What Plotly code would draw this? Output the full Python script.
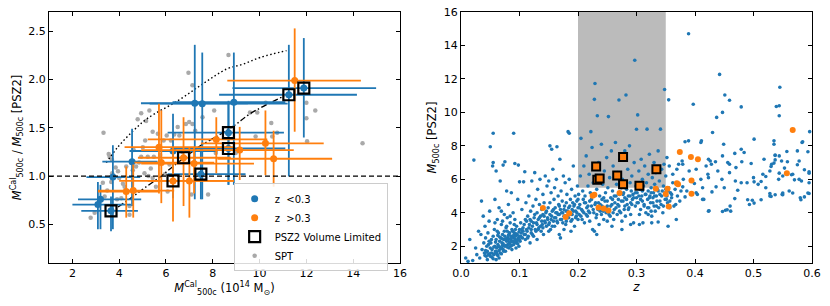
import plotly.graph_objects as go
from plotly.subplots import make_subplots

# ---------------- Left panel data ----------------
# z < 0.3 clusters (blue)
lo_x = [3.09, 3.20, 3.73, 3.65, 4.55, 6.30, 7.23, 7.55, 8.90, 8.67, 8.67, 7.49, 11.25, 11.89]
lo_y = [0.705, 0.76, 0.99, 0.64, 1.15, 1.26, 1.755, 1.75, 1.765, 1.45, 1.286, 1.02, 1.843, 1.912]
lo_xmin = [2.00, 2.24, 2.60, 2.38, 3.28, 4.44, 4.93, 5.30, 6.28, 6.07, 6.35, 6.07, 8.27, 8.84]
lo_xmax = [4.50, 4.94, 4.90, 4.80, 5.64, 8.20, 9.50, 11.20, 11.10, 11.04, 11.10, 9.40, 14.16, 14.98]
lo_ymin = [0.45, 0.45, 0.45, 0.43, 0.69, 0.77, 0.76, 0.76, 0.91, 0.91, 0.91, 0.76, 0.996, 1.40]
lo_ymax = [0.94, 0.91, 1.32, 0.79, 1.49, 1.645, 2.36, 2.28, 2.28, 1.78, 1.75, 1.30, 2.36, 2.43]

# z > 0.3 clusters (orange)
hi_x = [4.30, 4.60, 5.70, 5.80, 6.30, 6.75, 7.00, 7.20, 8.15, 9.15, 10.25, 10.60, 11.50]
hi_y = [0.84, 0.85, 1.30, 1.14, 0.95, 1.19, 0.95, 1.13, 1.38, 1.27, 1.34, 1.18, 1.99]
hi_xmin = [3.09, 3.09, 4.23, 4.65, 4.00, 4.80, 5.22, 4.94, 5.22, 4.94, 7.49, 8.20, 8.62]
hi_xmax = [5.72, 6.35, 8.90, 8.06, 8.90, 8.77, 8.90, 9.76, 10.33, 11.46, 12.74, 13.10, 14.33]
hi_ymin = [0.57, 0.57, 0.82, 0.72, 0.53, 0.69, 0.57, 0.82, 1.03, 0.96, 1.01, 0.89, 1.46]
hi_ymax = [1.10, 1.12, 1.75, 1.68, 1.29, 1.61, 1.30, 1.30, 1.61, 1.51, 1.68, 1.47, 2.53]

# PSZ2 volume limited (squares)
vl_x = [3.65, 6.30, 6.75, 7.49, 8.67, 8.67, 11.25, 11.89]
vl_y = [0.64, 0.95, 1.19, 1.02, 1.45, 1.286, 1.843, 1.912]

# SPT
spt_x = [8.67, 6.96, 7.13, 5.29, 3.33, 3.55, 3.59, 3.69, 3.70, 3.66, 3.49, 2.78, 2.95, 3.16, 3.38,
         3.91, 4.09, 4.44, 4.44, 4.23, 4.16, 4.58, 4.72, 4.94, 5.01, 5.11, 4.79, 4.94, 5.15, 5.43,
         5.65, 5.90, 6.03, 6.21, 5.48, 5.22, 5.08, 5.25, 5.43, 5.57, 6.07, 6.50, 6.57, 6.85, 6.99,
         7.13, 7.56, 8.06, 7.09, 7.80, 8.13, 8.98, 9.19, 9.83, 9.90, 10.26, 10.50, 10.75, 10.54,
         12.00, 12.00, 12.38, 12.03, 14.40, 9.59, 4.30, 4.85, 5.35, 5.75, 6.15, 3.85, 4.00, 3.30,
         5.95, 6.35, 4.62, 3.95, 7.25, 6.70]
spt_y = [2.254, 2.07, 1.94, 1.68, 1.45, 1.23, 1.20, 1.17, 1.03, 0.94, 0.85, 0.57, 0.62, 0.74, 0.79,
         0.76, 0.77, 0.69, 0.60, 0.89, 0.92, 1.06, 1.10, 1.20, 1.30, 1.37, 1.59, 1.65, 1.57, 1.46,
         1.44, 1.37, 1.42, 1.37, 1.20, 1.20, 1.03, 1.00, 0.98, 0.89, 0.84, 1.51, 1.42, 1.54, 1.56,
         1.54, 1.61, 1.68, 0.81, 0.81, 1.24, 1.24, 1.27, 1.41, 1.66, 1.76, 1.55, 1.45, 1.41,
         1.76, 1.60, 1.68, 1.36, 1.34, 1.66, 1.10, 1.14, 1.08, 1.22, 1.12, 1.09, 0.98, 0.93,
         1.02, 1.43, 1.27, 1.05, 1.47, 1.25]

# model curves
dot_x = [3.45, 3.94, 4.60, 5.22, 6.50, 7.60, 8.60, 9.30, 10.04, 11.15]
dot_y = [1.14, 1.30, 1.47, 1.60, 1.78, 1.96, 2.11, 2.16, 2.23, 2.30]
dd_x = [3.95, 4.60, 5.10, 5.74, 6.30, 7.16, 7.50, 8.16, 8.90, 9.62, 11.05]
dd_y = [0.68, 0.79, 0.88, 0.99, 1.10, 1.26, 1.32, 1.41, 1.52, 1.65, 1.83]

# ---------------- Right panel data ----------------
psz_z = [
 0.008,0.012,0.015,0.02,0.022,0.025,0.027,0.03,0.032,0.034,0.035,0.036,0.038,0.039,0.04,0.041,0.042,0.043,0.044,0.045,
 0.046,0.047,0.048,0.049,0.05,0.05,0.045,0.048,0.042,0.049,
 0.051,0.052,0.053,0.054,0.055,0.055,0.055,0.056,0.057,0.058,0.058,0.059,0.06,0.06,0.061,0.062,0.062,0.063,0.064,0.065,
 0.065,0.066,0.067,0.067,0.068,0.069,0.07,0.07,0.071,0.072,0.072,0.073,0.074,0.075,0.075,0.075,0.076,0.077,0.078,0.078,
 0.079,0.08,0.08,0.081,0.082,0.082,0.083,0.084,0.085,0.085,0.086,0.087,0.087,0.088,0.089,0.09,0.09,0.09,0.091,0.092,
 0.092,0.093,0.094,0.095,0.095,0.096,0.097,0.098,0.098,0.099,0.1,0.1,0.1,0.083,0.076,0.071,0.066,0.063,0.088,0.094,
 0.069,0.086,0.079,0.091,
 0.101,0.102,0.103,0.104,0.105,0.106,0.107,0.108,0.109,0.11,0.11,0.111,0.112,0.113,0.114,0.115,0.116,0.117,0.118,0.119,
 0.12,0.12,0.121,0.122,0.123,0.124,0.125,0.126,0.127,0.128,0.129,0.13,0.13,0.131,0.132,0.133,0.134,0.135,0.136,0.137,
 0.138,0.139,0.14,0.14,0.141,0.142,0.143,0.144,0.145,0.146,0.147,0.148,0.149,0.15,0.15,0.152,0.155,0.164,
 0.151,0.152,0.153,0.154,0.155,0.156,0.157,0.158,0.159,0.16,0.16,0.161,0.162,0.163,0.164,0.165,0.166,0.167,0.168,0.169,
 0.17,0.17,0.171,0.172,0.173,0.174,0.175,0.176,0.177,0.178,0.179,0.18,0.18,0.181,0.182,0.183,0.184,0.185,0.185,0.186,
 0.187,0.188,0.189,0.19,0.19,0.191,0.192,0.193,0.194,0.195,0.196,0.197,0.198,0.199,0.2,0.2,0.188,0.176,0.168,
 0.201,0.202,0.203,0.204,0.205,0.206,0.207,0.208,0.209,0.21,0.21,0.211,0.212,0.213,0.214,0.215,0.216,0.217,0.218,0.219,
 0.22,0.22,0.221,0.222,0.223,0.224,0.225,0.226,0.227,0.228,0.229,0.23,0.23,0.231,0.232,0.233,0.234,0.235,0.236,0.237,
 0.238,0.239,0.24,0.24,0.241,0.242,0.243,0.244,0.245,0.246,0.247,0.248,0.249,0.25,0.25,0.228,0.232,
 0.251,0.252,0.253,0.254,0.255,0.256,0.257,0.258,0.259,0.26,0.26,0.261,0.262,0.263,0.264,0.265,0.266,0.267,0.268,0.269,
 0.27,0.27,0.271,0.272,0.273,0.274,0.275,0.276,0.277,0.278,0.279,0.28,0.28,0.281,0.282,0.283,0.284,0.285,0.286,0.287,
 0.288,0.289,0.29,0.29,0.291,0.292,0.293,0.294,0.295,0.296,0.297,0.298,0.299,0.3,0.3,0.258,0.275,0.29,
 0.301,0.302,0.303,0.304,0.305,0.306,0.307,0.308,0.309,0.31,0.31,0.311,0.312,0.313,0.314,0.315,0.316,0.317,0.318,0.319,
 0.32,0.32,0.321,0.322,0.323,0.324,0.325,0.326,0.327,0.328,0.329,0.33,0.33,0.331,0.332,0.333,0.334,0.335,0.336,0.337,
 0.338,0.339,0.34,0.341,0.342,0.343,0.344,0.345,0.346,0.347,0.348,0.349,0.35,0.35,0.326,
 0.352,0.353,0.355,0.356,0.357,0.358,0.36,0.362,0.364,0.366,0.368,0.37,0.372,0.374,0.376,0.378,0.352,0.355,0.354,
 0.389,0.442,0.545,0.451,0.459,0.397,0.479,0.539,0.544,0.544,0.437,0.447,0.43,0.501,0.535,0.535,0.383,0.389,0.41,0.411,
 0.449,0.468,0.479,0.484,0.583,0.593,0.575,0.596,0.447,0.423,0.426,0.428,0.435,0.456,0.459,0.48,0.496,0.518,0.537,0.544,
 0.548,0.558,0.578,0.531,0.379,0.369,0.39,0.402,0.419,0.439,0.459,0.47,0.5,0.516,0.528,0.55,0.567,0.582,0.595,0.422,
 0.423,0.41,0.38,0.362,0.379,0.386,0.399,0.413,0.429,0.436,0.446,0.45,0.469,0.473,0.479,0.489,0.501,0.508,0.521,0.528,
 0.528,0.543,0.549,0.561,0.578,0.587,0.595,0.595,0.468,0.413,0.452,0.46,0.423,0.493,0.498,0.367,0.383,0.402,0.58,0.305,
 0.337,0.32,0.325,0.447,0.455,0.461,0.424,0.55,0.55,0.567,0.537,0.53,0.581,0.593,0.49,0.501,0.513,0.415,0.404,0.53,
 0.535,0.553,0.565,0.575,0.587,0.595,0.57,0.544,0.537,0.537,0.584,0.557,0.521,0.513,
 0.041,0.044,0.047,0.05,0.052,0.053,0.056,0.057,0.059,0.061,0.063,0.064,0.066,0.068,0.069,0.07,0.072,0.073,0.074,0.076,
 0.077,0.079,0.08,0.081,0.082,0.084,0.085,0.086,0.087,0.089,0.09,0.091,0.093,0.094,0.096,0.097,0.099,0.1,0.058,0.062,
 0.071,0.078,0.084,0.093,0.06,0.055,0.065,
 0.102,0.104,0.106,0.108,0.11,0.112,0.114,0.116,0.118,0.12,0.122,0.124,0.126,0.128,0.13,0.132,0.134,0.136,0.138,0.14,
 0.142,0.144,0.146,0.148,0.15,0.152,0.154,0.156,0.158,0.16,0.162,0.164,0.166,0.168,0.17,0.172,0.174,0.176,0.178,0.18,
 0.182,0.184,0.186,0.188,0.19,0.192,0.194,0.196,0.198,0.2,
 0.202,0.205,0.208,0.211,0.214,0.217,0.22,0.223,0.226,0.229,0.232,0.235,0.238,0.241,0.244,0.247,0.25,0.253,0.256,0.259,
 0.262,0.265,0.268,0.271,0.274,0.277,0.28,0.283,0.286,0.289,0.292,0.295,0.298,0.301,0.304,0.307,0.31,0.313,0.316,0.319,
 0.322,0.325,0.328,0.331,0.334,0.337,0.34,0.343,0.346,0.349,0.351,0.354,0.357,0.36]
psz_m = [
 1.3,1.1,2.4,1.15,7.15,1.9,1.5,2.9,1.3,2.7,4.7,1.8,3.8,2.2,1.6,3.2,2.5,1.4,2.0,1.7,
 2.8,1.5,3.5,4.1,7.95,1.9,1.2,2.3,1.75,1.55,
 2.2,1.6,1.8,6.8,7.0,8.75,2.6,1.5,3.0,2.0,4.8,1.7,6.5,2.4,1.9,3.6,1.5,2.1,2.8,1.75,
 4.3,2.3,5.9,1.6,2.5,3.3,1.9,2.2,2.7,6.85,1.8,2.4,3.9,7.05,2.0,2.6,1.7,3.1,2.3,5.3,
 2.9,2.1,2.5,4.5,1.9,2.7,2.2,3.4,2.4,2.0,2.6,1.8,3.0,2.3,4.0,8.75,2.5,2.1,2.8,6.95,
 3.6,2.4,1.9,2.2,3.2,2.7,4.8,6.85,2.5,2.0,5.85,3.0,2.6,2.8,2.4,2.05,1.95,2.65,2.9,2.35,
 4.1,5.2,3.7,3.3,
 2.3,3.4,2.8,4.2,2.5,3.1,5.85,2.7,6.45,3.6,2.4,4.6,3.0,2.9,3.8,2.6,5.0,3.3,2.2,4.1,
 3.5,2.8,5.9,3.2,4.4,2.6,3.7,6.4,3.0,4.8,3.4,2.4,4.0,5.4,3.6,3.1,4.5,6.0,3.8,2.9,
 4.2,3.3,5.1,3.9,2.7,4.6,3.5,6.2,4.0,3.2,5.6,3.7,4.3,2.9,5.9,8.0,7.8,7.95,
 3.4,4.6,3.0,5.2,3.8,4.1,6.6,3.5,4.8,3.2,5.5,4.3,3.7,6.0,4.0,3.4,5.0,4.5,3.9,7.2,
 4.2,2.5,5.3,3.6,4.7,4.0,6.2,3.8,4.4,5.8,3.3,4.6,4.1,5.1,3.7,8.85,4.3,8.75,6.0,4.0,
 4.8,3.5,5.4,4.2,3.9,4.6,6.8,4.4,3.2,5.0,4.1,3.8,4.7,5.6,4.3,3.6,2.9,3.0,2.7,
 5.1,3.9,4.5,6.2,8.45,4.2,3.6,5.3,4.8,4.0,6.8,3.4,5.0,4.6,7.4,4.3,3.8,5.6,4.1,6.3,
 4.7,3.5,5.2,8.85,4.4,7.9,3.0,5.8,4.0,10.78,11.73,4.6,6.6,3.7,5.4,9.8,4.2,7.0,3.3,5.0,
 4.5,6.0,3.9,8.1,4.8,5.7,4.1,3.6,6.5,4.7,5.2,4.0,7.3,4.4,3.5,2.9,2.7,
 5.5,9.75,4.2,6.1,3.8,4.9,7.7,4.5,5.3,4.0,6.8,3.6,5.0,4.6,8.2,4.3,5.7,3.9,6.4,4.8,
 10.74,4.4,5.1,7.2,4.0,5.5,3.5,6.0,4.7,5.2,4.2,7.7,4.9,3.8,11.04,5.4,4.5,6.6,5.0,4.3,
 8.0,5.8,4.6,3.9,5.3,6.2,4.8,5.1,3.4,7.0,13.12,4.4,5.6,8.99,4.9,3.2,3.0,3.3,
 5.2,9.85,4.6,6.5,3.9,5.4,4.2,7.2,5.0,4.7,6.0,3.4,5.6,4.4,6.8,5.1,4.0,5.8,9.0,4.8,
 5.3,6.3,4.3,7.5,5.0,4.6,5.5,3.8,6.1,4.9,5.2,4.4,7.0,5.7,4.1,6.4,5.0,4.7,5.4,7.7,
 4.3,5.9,5.1,9.0,4.5,6.6,5.3,4.0,5.6,6.9,11.37,4.8,5.4,6.2,3.4,
 5.0,4.6,5.5,6.8,4.3,5.2,4.9,5.8,4.4,5.4,3.6,5.0,6.9,4.7,5.3,7.1,7.3,10.75,3.2,
 14.7,12.27,11.5,11.04,10.73,10.49,10.33,10.35,10.4,9.8,9.7,10.0,8.8,8.4,8.3,8.1,8.25,8.3,8.2,8.3,
 8.1,7.55,7.8,7.6,8.2,7.65,7.7,8.85,7.4,7.2,7.1,6.9,7.05,7.0,6.9,7.05,6.95,7.2,7.45,7.4,
 7.1,7.05,7.1,6.9,6.9,6.6,6.5,6.6,6.8,6.5,6.4,6.7,6.1,6.3,6.5,6.2,6.3,5.9,6.45,6.3,
 6.1,6.0,6.0,6.3,5.55,5.3,5.75,5.5,5.25,5.55,6.0,5.5,5.9,5.35,5.8,5.8,5.85,5.7,5.5,5.15,
 5.0,6.0,5.1,5.3,6.0,4.95,5.8,5.15,4.85,4.8,4.15,4.4,4.1,4.5,4.75,4.5,4.95,5.2,4.9,3.3,
 3.45,3.9,4.1,4.08,4.18,4.1,4.12,5.08,5.18,5.18,5.08,4.98,4.78,5.18,4.78,4.58,4.78,4.8,5.1,6.77,
 6.97,6.67,6.27,6.87,6.57,6.37,5.97,6.37,7.16,7.42,8.25,7.66,6.17,5.87,
 1.45,1.65,2.1,1.4,2.4,1.35,1.95,1.55,2.25,1.65,1.45,2.0,2.55,1.85,1.55,2.45,2.15,1.7,2.9,2.05,
 2.45,1.95,2.35,2.65,2.15,2.45,2.25,2.05,2.55,2.3,2.65,2.2,2.6,2.75,2.35,2.15,2.85,2.4,3.4,2.9,
 3.5,3.2,3.8,3.0,1.2,1.25,1.3,
 2.6,3.0,2.9,3.3,2.7,3.5,2.5,3.1,3.6,3.0,2.7,3.4,3.9,2.9,3.3,3.0,3.7,3.2,3.5,3.1,
 3.8,3.4,4.1,3.6,3.3,3.9,3.6,3.2,4.2,3.7,4.0,3.5,3.9,4.4,3.6,4.0,3.4,4.2,3.8,3.5,
 4.1,3.7,4.4,3.9,3.6,4.1,4.5,3.7,4.0,4.8,
 4.3,3.8,4.1,4.6,3.9,4.4,4.0,4.8,4.2,4.5,3.9,4.6,4.1,4.4,4.9,4.3,4.7,3.9,4.4,4.8,
 4.2,5.0,4.5,4.1,4.7,5.1,4.4,4.8,4.2,5.0,4.5,4.9,5.2,4.6,5.0,4.8,5.3,4.5,5.1,4.3,
 4.9,5.2,4.6,5.0,4.4,5.3,4.7,5.0,4.4,5.2,4.8,5.3,4.7,5.1]

# clusters with calibrated masses (orange in right panel)
cal_z = [0.140, 0.179, 0.185, 0.225, 0.228, 0.235, 0.244, 0.252, 0.271, 0.333, 0.350, 0.353, 0.355,
         0.369, 0.371, 0.374, 0.393, 0.394, 0.394, 0.405, 0.557, 0.567]
cal_m = [4.28, 3.75, 3.97, 5.02, 5.08, 4.32, 4.25, 4.13, 5.18, 5.44, 5.12, 5.44, 4.38,
         5.77, 5.71, 7.64, 7.34, 5.93, 5.14, 7.20, 6.37, 8.95]

# volume-limited clusters
vlr_z = [0.231, 0.277, 0.233, 0.237, 0.267, 0.277, 0.305, 0.334]
vlr_m = [6.77, 7.34, 5.97, 6.05, 6.23, 5.71, 5.61, 6.61]

# selection box
box_z = [0.20, 0.35]
box_m = [5.5, 16.0]

BLUE = "#1f77b4"
ORANGE = "#ff7f0e"
FONT = "DejaVu Sans"

fig = make_subplots(rows=1, cols=2, horizontal_spacing=0.08)

# SPT
fig.add_trace(go.Scatter(x=spt_x, y=spt_y, mode="markers", name="SPT",
                         marker=dict(color="#a9a9a9", size=4.5), legendrank=4), 1, 1)
# dashed horizontal line
fig.add_hline(y=1.0, line=dict(color="black", width=1.3, dash="5px,3px"), row=1, col=1)
# model curves
fig.add_trace(go.Scatter(x=dot_x, y=dot_y, mode="lines", showlegend=False,
                         line=dict(color="black", width=1.4, dash="1.5px,2.5px", shape="spline")), 1, 1)
fig.add_trace(go.Scatter(x=dd_x, y=dd_y, mode="lines", showlegend=False,
                         line=dict(color="black", width=1.4, dash="6px,2.5px,1.5px,2.5px", shape="spline")), 1, 1)


def err(c, lo, hi):
    return [h - v for v, h in zip(c, hi)], [v - l for v, l in zip(c, lo)]


ex_p, ex_m = err(lo_x, lo_xmin, lo_xmax)
ey_p, ey_m = err(lo_y, lo_ymin, lo_ymax)
fig.add_trace(go.Scatter(x=lo_x, y=lo_y, mode="markers", name="z  <0.3", legendrank=1,
                         marker=dict(color=BLUE, size=7),
                         error_x=dict(type="data", array=ex_p, arrayminus=ex_m, color=BLUE, thickness=1.8, width=0),
                         error_y=dict(type="data", array=ey_p, arrayminus=ey_m, color=BLUE, thickness=1.8, width=0)), 1, 1)
ex_p, ex_m = err(hi_x, hi_xmin, hi_xmax)
ey_p, ey_m = err(hi_y, hi_ymin, hi_ymax)
fig.add_trace(go.Scatter(x=hi_x, y=hi_y, mode="markers", name="z  >0.3", legendrank=2,
                         marker=dict(color=ORANGE, size=7),
                         error_x=dict(type="data", array=ex_p, arrayminus=ex_m, color=ORANGE, thickness=1.8, width=0),
                         error_y=dict(type="data", array=ey_p, arrayminus=ey_m, color=ORANGE, thickness=1.8, width=0)), 1, 1)
fig.add_trace(go.Scatter(x=vl_x, y=vl_y, mode="markers", name="PSZ2 Volume Limited", legendrank=3,
                         marker=dict(symbol="square-open", color="black", size=11, line=dict(width=2.2))), 1, 1)

# Right panel
fig.add_shape(type="rect", x0=box_z[0], x1=box_z[1], y0=box_m[0], y1=box_m[1],
              fillcolor="#bbbbbb", line=dict(width=0), layer="below", row=1, col=2)
fig.add_trace(go.Scatter(x=psz_z, y=psz_m, mode="markers", showlegend=False,
                         marker=dict(color=BLUE, size=3.6)), 1, 2)
fig.add_trace(go.Scatter(x=cal_z, y=cal_m, mode="markers", showlegend=False,
                         marker=dict(color=ORANGE, size=6)), 1, 2)
fig.add_trace(go.Scatter(x=vlr_z, y=vlr_m, mode="markers", showlegend=False,
                         marker=dict(symbol="square", color=ORANGE, size=8, line=dict(color="black", width=2))), 1, 2)

axis_common = dict(showline=True, linecolor="black", linewidth=1.2, mirror="ticks", ticks="inside",
                   ticklen=4, tickwidth=1, tickcolor="black", showgrid=False, zeroline=False,
                   automargin=False, tickfont=dict(family=FONT, size=11, color="black"))

fig.update_xaxes(axis_common)
fig.update_yaxes(axis_common)

fig.update_xaxes(range=[1, 16], tickvals=[2, 4, 6, 8, 10, 12, 14, 16], domain=[0, 0.46],
                 title=dict(text="<i>M</i><sup>Cal</sup><sub>500c</sub> (10<sup>14</sup> M<sub>⊙</sub>)",
                            font=dict(family=FONT, size=11.5), standoff=2), row=1, col=1)
fig.update_yaxes(range=[0.1, 2.7], tickvals=[0.5, 1.0, 1.5, 2.0, 2.5], tickformat=".1f",
                 title=dict(text="<i>M</i><sup>Cal</sup><sub>500c</sub> / <i>M</i><sub>500c</sub> [PSZ2]",
                            font=dict(family=FONT, size=11.5), standoff=4), row=1, col=1)
fig.update_xaxes(range=[0, 0.6], dtick=0.1, tickformat=".1f", domain=[0.54, 1],
                 title=dict(text="<i>z</i>", font=dict(family=FONT, size=12), standoff=2), row=1, col=2)
fig.update_yaxes(range=[1, 16], tickvals=[2, 4, 6, 8, 10, 12, 14, 16],
                 title=dict(text="<i>M</i><sub>500c</sub> [PSZ2]", font=dict(family=FONT, size=11.5), standoff=4),
                 row=1, col=2)

fig.update_layout(
    width=830, height=306,
    margin=dict(l=49, r=18, t=12, b=43),
    paper_bgcolor="white", plot_bgcolor="white",
    font=dict(family=FONT, size=11, color="black"),
    legend=dict(x=0.242, y=0.318, xanchor="left", yanchor="top",
                bgcolor="rgba(255,255,255,0.85)", bordercolor="#cccccc", borderwidth=1,
                font=dict(family=FONT, size=10), tracegroupgap=0, itemwidth=30),
)

fig.write_html("out.html", config={"displayModeBar": False},
               post_script="document.body.style.margin='0';document.body.style.padding='0';")
